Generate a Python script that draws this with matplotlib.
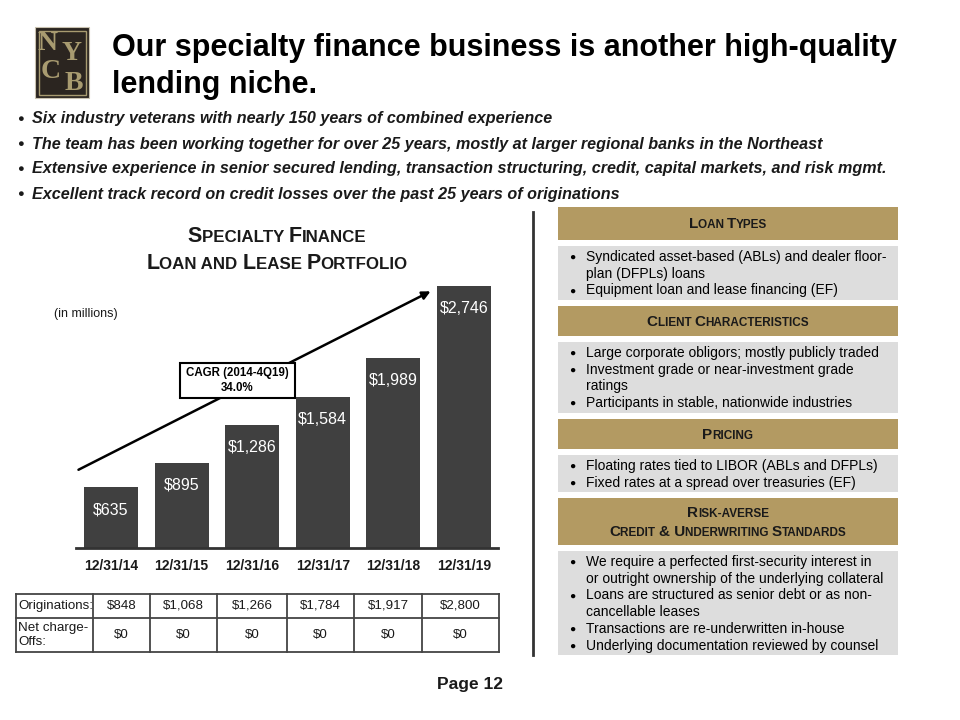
import matplotlib
matplotlib.use('Agg')
import matplotlib.pyplot as plt
from matplotlib.patches import Rectangle
from matplotlib.offsetbox import TextArea, HPacker, VPacker, AnnotationBbox

plt.rcParams['font.family'] = ['Liberation Sans', 'DejaVu Sans']

# ---------------- data ----------------
periods = ['12/31/14', '12/31/15', '12/31/16', '12/31/17', '12/31/18', '12/31/19']
portfolio = [635, 895, 1286, 1584, 1989, 2746]
originations = [848, 1068, 1266, 1784, 1917, 2800]
net_charge_offs = [0, 0, 0, 0, 0, 0]
cagr_label = 'CAGR (2014-4Q19)\n34.0%'
chart_title = ['Specialty Finance', 'Loan and Lease Portfolio']
units_note = '(in millions)'
title_lines = ['Our specialty finance business is another high-quality',
               'lending niche.']
intro_bullets = [
    'Six industry veterans with nearly 150 years of combined experience',
    'The team has been working together for over 25 years, mostly at larger regional banks in the Northeast',
    'Extensive experience in senior secured lending, transaction structuring, credit, capital markets, and risk mgmt.',
    'Excellent track record on credit losses over the past 25 years of originations',
]
loan_types_header = ['Loan Types']
loan_types = [['Syndicated asset-based (ABLs) and dealer floor-', 'plan (DFPLs) loans'],
              ['Equipment loan and lease financing (EF)']]
client_header = ['Client Characteristics']
client_items = [['Large corporate obligors; mostly publicly traded'],
                ['Investment grade or near-investment grade', 'ratings'],
                ['Participants in stable, nationwide industries']]
pricing_header = ['Pricing']
pricing_items = [['Floating rates tied to LIBOR (ABLs and DFPLs)'],
                 ['Fixed rates at a spread over treasuries (EF)']]
risk_header = ['Risk-averse', 'Credit & Underwriting Standards']
risk_items = [['We require a perfected first-security interest in',
               'or outright ownership of the underlying collateral'],
              ['Loans are structured as senior debt or as non-', 'cancellable leases'],
              ['Transactions are re-underwritten in-house'],
              ['Underlying documentation reviewed by counsel']]
table_row_labels = ['Originations:', 'Net charge-\nOffs:']
page_label = 'Page 12'

# ---------------- styles ----------------
GOLD = '#B39A62'
GRAY = '#DDDDDD'
BAR = '#404040'
DARK = '#1a1a1a'

fig = plt.figure(figsize=(9.6, 7.2), dpi=100)
fig.patch.set_facecolor('white')
ov = fig.add_axes([0, 0, 1, 1])
ov.set_xlim(0, 960)
ov.set_ylim(720, 0)
ov.axis('off')


def smallcaps_box(lines, big, small, color=DARK, sep=4):
    rows = []
    for line in lines:
        runs = []
        cur_kind, cur = None, ''
        for ch in line:
            kind = 'big' if (ch.isupper() or ch == '&') else 'small'
            if ch == ' ':
                kind = cur_kind or 'small'
            if kind != cur_kind and cur:
                runs.append((cur_kind, cur))
                cur = ''
            cur_kind = kind
            cur += ch
        if cur:
            runs.append((cur_kind, cur))
        areas = [TextArea(t.upper(), textprops=dict(size=(big if k == 'big' else small),
                                                     weight='bold', color=color))
                 for k, t in runs]
        rows.append(HPacker(children=areas, align='baseline', pad=0, sep=0))
    return VPacker(children=rows, align='center', pad=0, sep=sep)


def place(box, x, y):
    ab = AnnotationBbox(box, (x, y), xycoords=ov.transData, frameon=False,
                        box_alignment=(0.5, 0.5), pad=0)
    ov.add_artist(ab)


# ---------------- logo ----------------
ov.add_patch(Rectangle((35, 27), 54, 71, facecolor='#2b2520', edgecolor='#c9c2b0', lw=0.8))
ov.add_patch(Rectangle((38.5, 30.5), 47, 64, facecolor='none', edgecolor='#a89b70', lw=1.0))
for ch, (lx, ly) in zip('NYCB', [(48, 43), (72, 54), (51, 72), (74, 83)]):
    ov.text(lx, ly, ch, family=['Liberation Serif', 'DejaVu Serif'], size=20,
            weight='bold', color='#a89b70', ha='center', va='center')

# ---------------- title ----------------
for i, line in enumerate(title_lines):
    ov.text(112, 56 + 37 * i, line, size=22, weight='bold', color='black',
            ha='left', va='baseline')

# ---------------- intro bullets ----------------
for i, b in enumerate(intro_bullets):
    y = 119 + 25 * i
    ov.text(20, y, '●', size=8, ha='center', va='center', color=DARK)
    ov.text(32, y, b, size=11.6, weight='bold', style='italic', ha='left', va='center',
            color=DARK)

# ---------------- right panel ----------------
ov.plot([533, 533], [212, 655], color='#333333', lw=2)
PX0, PX1 = 558, 898
sections = [
    (loan_types_header, (207, 240), loan_types, (246, 300)),
    (client_header, (306, 336), client_items, (342, 413)),
    (pricing_header, (419, 449), pricing_items, (455, 492)),
    (risk_header, (498, 545), risk_items, (551, 655)),
]
for head, (h0, h1), items, (b0, b1) in sections:
    ov.add_patch(Rectangle((PX0, h0), PX1 - PX0, h1 - h0, facecolor=GOLD, edgecolor='none'))
    ov.add_patch(Rectangle((PX0, b0), PX1 - PX0, b1 - b0, facecolor=GRAY, edgecolor='none'))
    place(smallcaps_box(head, 11, 8.5, sep=3), (PX0 + PX1) / 2, (h0 + h1) / 2 + 1)
    y = b0 + 11
    for item in items:
        ov.text(572, y, '●', size=7.5, ha='center', va='center', color='black')
        for ln in item:
            ov.text(586, y, ln, size=10, ha='left', va='center', color='black')
            y += 16.7

# ---------------- chart ----------------
place(smallcaps_box(chart_title, 15.5, 12.2, sep=4), 277, 250)
ov.text(54, 314, units_note, size=9, ha='left', va='center', color=DARK)

base_px, top_px = 548, 248
ax = fig.add_axes([76 / 960, (720 - base_px) / 720, (498 - 76) / 960, (base_px - top_px) / 720])
ax.set_facecolor('none')
x = list(range(len(periods)))
ax.bar(x, portfolio, width=0.765, color=BAR, zorder=2)
ax.set_xlim(-0.496, 5.48)
ax.set_ylim(0, 3145)
for s in ['top', 'right', 'left']:
    ax.spines[s].set_visible(False)
ax.spines['bottom'].set_color('#333333')
ax.spines['bottom'].set_linewidth(2)
ax.set_yticks([])
ax.set_xticks(x)
ax.set_xticklabels(periods, size=10, weight='bold', color=DARK)
ax.tick_params(axis='x', length=0, pad=8)
for xi, v in zip(x, portfolio):
    ax.annotate(f'${v:,}', (xi, v), xytext=(0, -16), textcoords='offset points',
                ha='center', va='center', color='white', size=11.5)

# CAGR trend arrow and label
ax.annotate('', xy=(4.56, 2704), xytext=(-0.496, 807),
            arrowprops=dict(arrowstyle='-|>', color='black', lw=1.8, mutation_scale=12),
            annotation_clip=False, zorder=4)
ax.add_patch(Rectangle((0.977, 1572), 1.63, 367, facecolor='white', edgecolor='black',
                       lw=1.5, zorder=5))
ax.text(0.977 + 1.63 / 2, 1572 + 367 / 2, cagr_label, ha='center', va='center',
        size=8.3, weight='bold', zorder=6, linespacing=1.3)

# ---------------- table ----------------
col_edges = [16, 93, 150, 217, 287, 354, 422, 499]
row_edges = [594, 618, 652]
for xe in col_edges:
    ov.plot([xe, xe], [row_edges[0], row_edges[-1]], color='#444444', lw=1.3)
for ye in row_edges:
    ov.plot([col_edges[0], col_edges[-1]], [ye, ye], color='#444444', lw=1.3)
rows = [originations, net_charge_offs]
for r, (lab, vals) in enumerate(zip(table_row_labels, rows)):
    yc = (row_edges[r] + row_edges[r + 1]) / 2
    ov.text(col_edges[0] + 2, yc, lab, size=9.6, ha='left', va='center', color=DARK,
            linespacing=1.15)
    for c, v in enumerate(vals):
        xc = (col_edges[c + 1] + col_edges[c + 2]) / 2
        ov.text(xc, yc, f'${v:,}', size=9.6, ha='center', va='center', color=DARK)

ov.text(503, 685, page_label, size=12.5, weight='bold', ha='right', va='center', color=DARK)

fig.savefig('out.png', dpi=100, facecolor='white')
